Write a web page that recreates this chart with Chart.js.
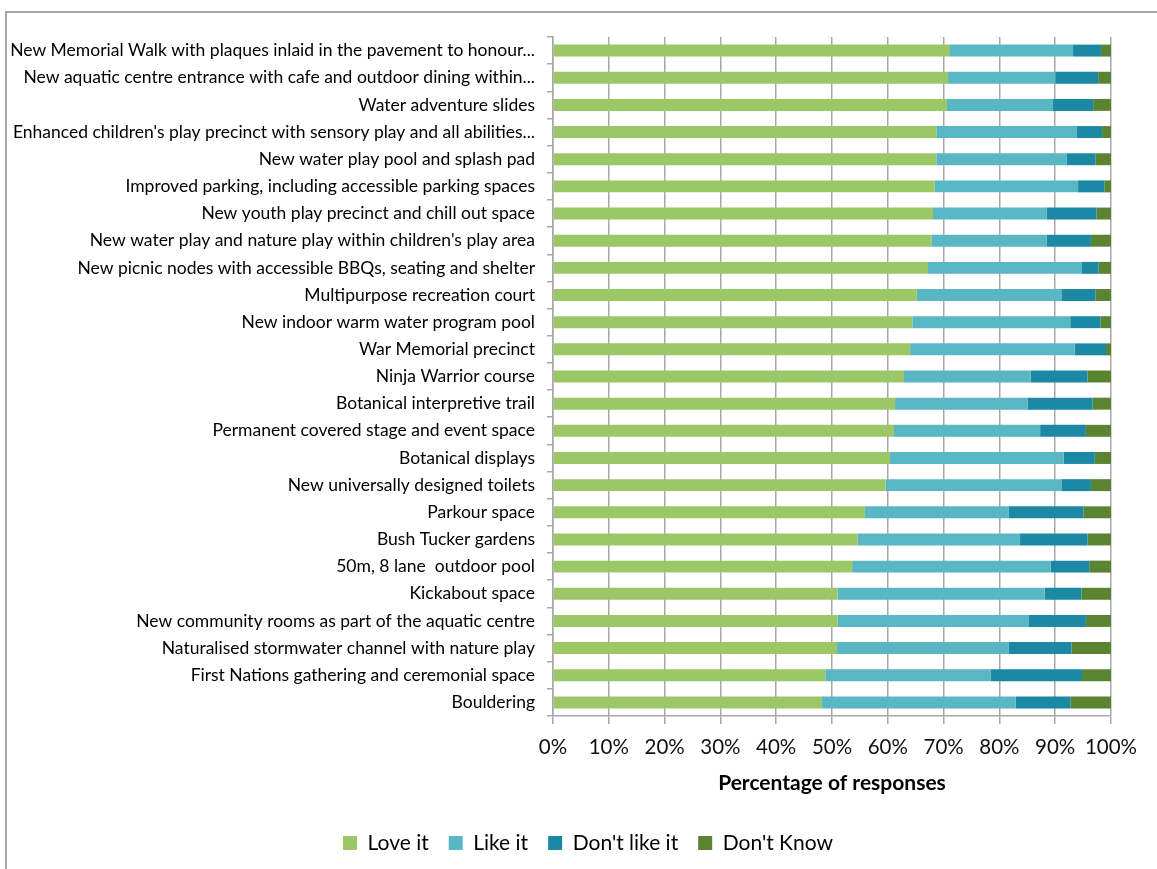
<!DOCTYPE html>
<html>
<head>
<meta charset="utf-8">
<script src="https://cdn.jsdelivr.net/npm/chart.js@4/dist/chart.umd.min.js"></script>
<style>
  html, body { margin: 0; padding: 0; background: #fff; }
  .frame {
    position: absolute; left: 5px; top: 11px; right: 0; bottom: 0;
    border-top: 2px solid #a6a6a6; border-left: 2px solid #a6a6a6;
  }
  .wrap { position: absolute; left: 0; top: 0; width: 1157px; height: 869px; }
</style>
</head>
<body>
<div class="frame"></div>
<div class="wrap"><canvas id="myChart" width="1157" height="869"></canvas></div>
<script>
const ctx = document.getElementById('myChart');

const categorias = [
  "New Memorial Walk with plaques inlaid in the pavement to honour...",
  "New aquatic centre entrance with cafe and outdoor dining within...",
  "Water adventure slides",
  "Enhanced children's play precinct with sensory play and all abilities...",
  "New water play pool and splash pad",
  "Improved parking, including accessible parking spaces",
  "New youth play precinct and chill out space",
  "New water play and nature play within children's play area",
  "New picnic nodes with accessible BBQs, seating and shelter",
  "Multipurpose recreation court",
  "New indoor warm water program pool",
  "War Memorial precinct",
  "Ninja Warrior course",
  "Botanical interpretive trail",
  "Permanent covered stage and event space",
  "Botanical displays",
  "New universally designed toilets",
  "Parkour space",
  "Bush Tucker gardens",
  "50m, 8 lane  outdoor pool",
  "Kickabout space",
  "New community rooms as part of the aquatic centre",
  "Naturalised stormwater channel with nature play",
  "First Nations gathering and ceremonial space",
  "Bouldering"
];

const loveIt     = [71.0, 70.8, 70.6, 68.7, 68.7, 68.4, 68.1, 67.8, 67.2, 65.2, 64.4, 64.0, 62.9, 61.3, 61.1, 60.4, 59.6, 55.9, 54.6, 53.6, 51.0, 51.0, 50.9, 48.8, 48.2];
const likeIt     = [22.2, 19.2, 19.0, 25.1, 23.4, 25.7, 20.4, 20.7, 27.6, 25.9, 28.3, 29.5, 22.7, 23.8, 26.2, 31.1, 31.5, 25.8, 29.1, 35.6, 37.1, 34.3, 30.8, 29.6, 34.7];
const dontLikeIt = [ 5.0,  7.7,  7.2,  4.6,  5.1,  4.7,  8.9,  7.9,  3.0,  6.1,  5.4,  5.6, 10.2, 11.6,  8.2,  5.6,  5.3, 13.4, 12.1,  6.9,  6.6, 10.2, 11.2, 16.4,  9.8];
const dontKnow   = [ 1.8,  2.3,  3.2,  1.6,  2.8,  1.2,  2.6,  3.6,  2.2,  2.8,  1.9,  0.9,  4.2,  3.3,  4.5,  2.9,  3.6,  4.9,  4.2,  3.9,  5.3,  4.5,  7.1,  5.2,  7.3];

const fuente = "Lato, 'Open Sans', sans-serif";
const gris = '#a8a8a8';

function serie(label, data, color){
  return {
    label: label,
    data: data,
    backgroundColor: color,
    borderWidth: 0,
    categoryPercentage: 1,
    barPercentage: 0.44
  };
}

// mueve la leyenda un poco a la derecha para centrarla en el cuadro
const moverLeyenda = {
  id: 'moverLeyenda',
  afterLayout(chart) {
    chart.legend.left += 60;
  }
};

const graph = new Chart(ctx, {
  type: 'bar',
  data: {
    labels: categorias,
    datasets: [
      serie("Love it", loveIt, '#9bc766'),
      serie("Like it", likeIt, '#59b7c4'),
      serie("Don't like it", dontLikeIt, '#1b88a4'),
      serie("Don't Know", dontKnow, '#5a8332')
    ]
  },
  plugins: [moverLeyenda],
  options: {
    indexAxis: 'y',
    responsive: false,
    animation: false,
    layout: { padding: { left: 5, right: 46, top: 37, bottom: 5.5 } },
    scales: {
      x: {
        stacked: true,
        min: 0,
        max: 100,
        ticks: {
          stepSize: 10,
          callback: (v) => v + '%',
          color: '#111',
          font: { family: fuente, size: 20.5 },
          padding: 11,
          maxRotation: 0,
          minRotation: 0,
          autoSkip: false
        },
        grid: { color: gris, lineWidth: 1.5, tickLength: 8 },
        border: { color: gris, width: 1.5 },
        title: {
          display: true,
          text: 'Percentage of responses',
          color: '#000',
          font: { family: fuente, size: 21, weight: 'bold' },
          padding: { top: 6, bottom: 17 }
        },
        afterFit: (scale) => { scale.height = 96.5; }
      },
      y: {
        stacked: true,
        ticks: {
          color: '#000',
          font: { family: fuente, size: 17.5 },
          padding: 12,
          autoSkip: false
        },
        grid: { drawOnChartArea: false, color: gris, lineWidth: 1.5, tickLength: 6 },
        border: { color: gris, width: 1.5 },
        afterFit: (scale) => { scale.width = 548; }
      }
    },
    plugins: {
      tooltip: { enabled: false },
      legend: {
        position: 'bottom',
        labels: {
          color: '#000',
          boxWidth: 14,
          boxHeight: 14,
          padding: 20,
          font: { family: fuente, size: 21 }
        }
      }
    }
  }
});
</script>
</body>
</html>
